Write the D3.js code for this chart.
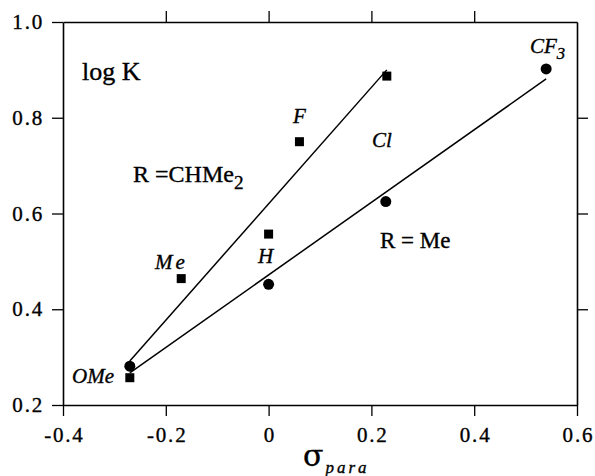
<!DOCTYPE html>
<html>
<head>
<meta charset="utf-8">
<script src="https://cdn.jsdelivr.net/npm/d3@7"></script>
<style>
  body { margin: 0; background: #fff; }
  svg text { font-family: "Liberation Serif", "Times New Roman", serif; fill: #000; stroke: #000; stroke-width: 0.35px; }
</style>
</head>
<body>
<div id="chart"></div>
<script>
// substituent sigma_para values and log K for the two series
const chme2Sigma = [-0.27, -0.17, 0, 0.06, 0.23];
const chme2LogK = [0.257, 0.464, 0.557, 0.75, 0.887];
const meSigma = [-0.27, 0, 0.228, 0.54];
const meLogK = [0.281, 0.452, 0.625, 0.902];

// fitted lines (end points)
const chme2Fit = [[-0.27, 0.292], [0.23, 0.90]];
const meFit = [[-0.27, 0.267], [0.54, 0.881]];

const xTicks = [-0.4, -0.2, 0, 0.2, 0.4, 0.6];
const yTicks = [0.2, 0.4, 0.6, 0.8, 1.0];

const margin = { top: 22, right: 18, bottom: 71, left: 63 },
    width = 595 - margin.left - margin.right,
    height = 476 - margin.top - margin.bottom;

const svg = d3.select("#chart")
    .append("svg")
    .attr("width", 595)
    .attr("height", 476)
    .append("g")
    .attr("transform", `translate(${margin.left},${margin.top})`);

const x = d3.scaleLinear().domain([-0.4, 0.6]).range([0, width]);
const y = d3.scaleLinear().domain([0.2, 1.0]).range([height, 0]);

// plain hyphen for negatives, like the original
const fmtX = d => d === 0 ? "0" : d3.format(".1f")(d).replace("−", "-");

function styleAxis(g) {
    g.attr("font-family", null).attr("font-size", null);
    g.select(".domain").attr("stroke-width", 1.6);
    g.selectAll(".tick line").attr("stroke-width", 1.3);
    g.selectAll("text")
        .style("font-size", "21px")
        .style("letter-spacing", "1.8px");
}

// bottom axis
svg.append("g")
    .attr("transform", `translate(0,${height})`)
    .call(d3.axisBottom(x).tickValues(xTicks).tickFormat(fmtX).tickSize(11).tickSizeOuter(0).tickPadding(11))
    .call(styleAxis)
    .selectAll("text").attr("dx", "0.9px");

// left axis
svg.append("g")
    .call(d3.axisLeft(y).tickValues(yTicks).tickFormat(d3.format(".1f")).tickSize(11).tickSizeOuter(0).tickPadding(8))
    .call(styleAxis);

// top axis (ticks only)
svg.append("g")
    .call(d3.axisTop(x).tickValues(xTicks.slice(1, -1)).tickFormat("").tickSize(11).tickSizeOuter(0))
    .call(styleAxis);

// right axis (ticks only)
svg.append("g")
    .attr("transform", `translate(${width},0)`)
    .call(d3.axisRight(y).tickValues(yTicks.slice(1, -1)).tickFormat("").tickSize(11).tickSizeOuter(0))
    .call(styleAxis);

// fit lines
const line = d3.line().x(d => x(d[0])).y(d => y(d[1]));
svg.selectAll(".fit")
    .data([chme2Fit, meFit])
    .join("path")
    .attr("d", line)
    .attr("fill", "none")
    .attr("stroke", "#000")
    .attr("stroke-width", 1.5);

// squares: R = CHMe2
const sq = 9;
svg.selectAll(".sq")
    .data(chme2Sigma.map((s, i) => [s, chme2LogK[i]]))
    .join("rect")
    .attr("x", d => x(d[0]) - sq / 2)
    .attr("y", d => y(d[1]) - sq / 2)
    .attr("width", sq)
    .attr("height", sq)
    .attr("fill", "#000");

// circles: R = Me
svg.selectAll(".dot")
    .data(meSigma.map((s, i) => [s, meLogK[i]]))
    .join("circle")
    .attr("cx", d => x(d[0]))
    .attr("cy", d => y(d[1]))
    .attr("r", 5.5)
    .attr("fill", "#000");

// labels (page coordinates)
const page = d3.select("svg");
function label(px, py, txt, size, italic, sub) {
    const t = page.append("text")
        .attr("x", px).attr("y", py)
        .style("font-size", size + "px")
        .style("font-style", italic ? "italic" : "normal");
    t.append("tspan").text(txt);
    if (sub) {
        t.append("tspan").attr("dy", size * 0.3).style("font-size", (size * 0.8) + "px").text(sub);
    }
    return t;
}

label(82, 80, "log K", 26, false);
label(133, 182, "R =CHMe", 24, false, "2");
label(380, 248, "R = Me", 23, false);
label(293, 123, "F", 21, true);
label(372, 147, "Cl", 21, true);
label(530, 53, "CF", 21, true, "3");
label(258, 263, "H", 21, true);
label(155, 269, "Me", 21, true).style("letter-spacing", "3px");
label(72, 383, "OMe", 21, true);

// x-axis title
const xt = page.append("text").attr("x", 303).attr("y", 466);
xt.append("tspan").style("font-size", "30px").style("font-family", "DejaVu Serif, serif").text("σ");
xt.append("tspan").attr("dy", 7).attr("dx", 2).style("font-size", "17px").style("font-style", "italic")
    .style("letter-spacing", "3px").text("para");
</script>
</body>
</html>
